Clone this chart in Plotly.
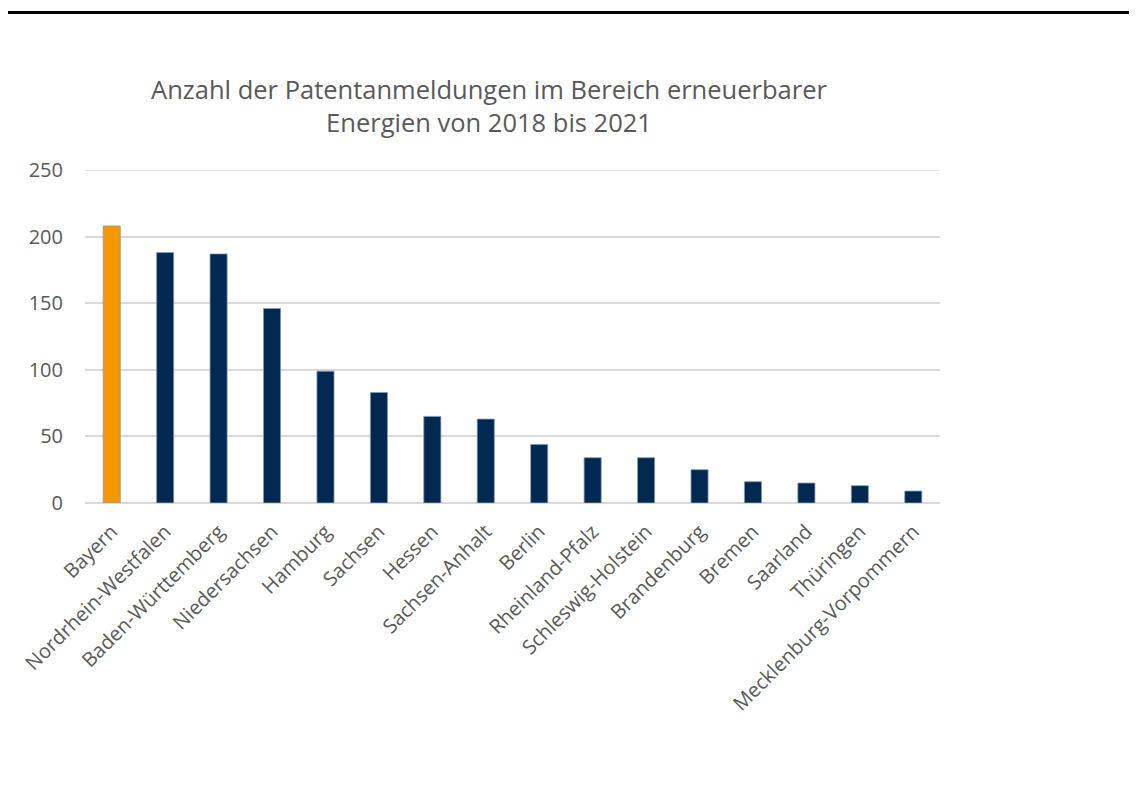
import plotly.graph_objects as go

categories = ["Bayern", "Nordrhein-Westfalen", "Baden-Württemberg", "Niedersachsen",
              "Hamburg", "Sachsen", "Hessen", "Sachsen-Anhalt", "Berlin",
              "Rheinland-Pfalz", "Schleswig-Holstein", "Brandenburg", "Bremen",
              "Saarland", "Thüringen", "Mecklenburg-Vorpommern"]
values = [208, 188, 187, 146, 99, 83, 65, 63, 44, 34, 34, 25, 16, 15, 13, 9]
highlight = "Bayern"
title_text = "Anzahl der Patentanmeldungen im Bereich erneuerbarer<br>Energien von 2018 bis 2021"
y_ticks = [0, 50, 100, 150, 200, 250]

OFF = 8  # page body margin in the browser
W, H = 1137 - OFF, 790 - OFF
L, R, T, B = 85 - OFF, 1137 - 940, 170 - OFF, 790 - 503
pw, ph = W - L - R, H - T - B

colors = ["#F39800" if c == highlight else "#002850" for c in categories]

fig = go.Figure(go.Bar(
    x=categories, y=values, marker=dict(color=colors, line=dict(width=0.8, color="#8a9bb3")),
))

def px_x(p):
    return (p - OFF - L) / pw

def px_y(p):
    return (H - B - (p - OFF)) / ph

fig.update_layout(
    width=W, height=H,
    margin=dict(l=L, r=R, t=T, b=B),
    paper_bgcolor="white", plot_bgcolor="white",
    bargap=0.68,
    showlegend=False,
    font=dict(family="Open Sans, sans-serif", color="#595959"),
    title=dict(text=title_text, x=(489 - OFF) / W, xanchor="center", xref="container",
               y=1 - (99 - OFF) / H, yanchor="top", yref="container",
               font=dict(size=25.5, color="#595959")),
    xaxis=dict(tickangle=-45, tickfont=dict(size=20, color="#595959"),
               showgrid=False, showline=False, ticks="", ticklabelstandoff=12),
    yaxis=dict(range=[0, 250], tickvals=y_ticks,
               tickfont=dict(size=20, color="#595959"),
               showgrid=True, gridcolor="#D9D9D9", gridwidth=1.5,
               zeroline=True, zerolinecolor="#D9D9D9", zerolinewidth=1.5,
               ticks="", ticklabelstandoff=21),
    shapes=[
        dict(type="line", xref="paper", yref="paper",
             x0=px_x(OFF), x1=px_x(1137), y0=px_y(12.5), y1=px_y(12.5),
             line=dict(color="black", width=3)),
        dict(type="line", xref="paper", yref="y", x0=0, x1=1,
             y0=y_ticks[-1], y1=y_ticks[-1], line=dict(color="#D9D9D9", width=1.5)),
    ],
)

fig.write_html("out.html")
